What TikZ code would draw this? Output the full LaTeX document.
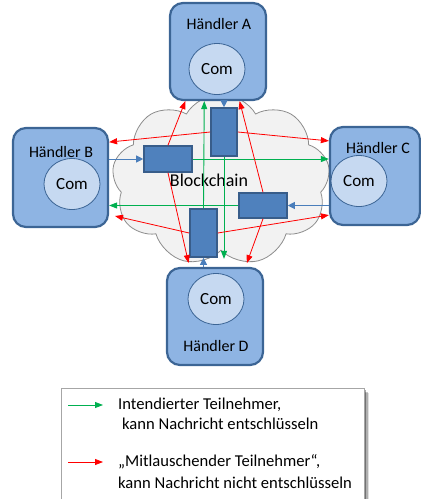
\documentclass[tikz,border=0pt]{standalone}
\usepackage{fontspec}
\setmainfont{Carlito}
\usetikzlibrary{shapes.symbols,shapes.geometric,arrows.meta,calc}
\definecolor{boxfill}{HTML}{8EB4E3}
\definecolor{boxline}{HTML}{3C6595}
\definecolor{comfill}{HTML}{C6D9F1}
\definecolor{blockfill}{HTML}{4F81BD}
\definecolor{blockline}{HTML}{385D8A}
\definecolor{sendblue}{HTML}{4A7EBB}
\definecolor{okgreen}{HTML}{00B050}
\definecolor{eavred}{HTML}{FF0000}
\definecolor{cloudfill}{HTML}{F2F2F2}
\definecolor{cloudline}{HTML}{8C8C8C}
\begin{document}
\begin{tikzpicture}[x=1pt,y=-1pt,
  handler/.style={draw=boxline, fill=boxfill, line width=2.2pt, rounded corners=13pt, inner sep=0pt},
  com/.style={ellipse, draw=boxline, fill=comfill, line width=0.8pt, minimum width=56pt, minimum height=51pt, inner sep=0pt, font=\fontsize{17}{20}\selectfont},
  hlabel/.style={font=\fontsize{16}{19}\selectfont, inner sep=0pt},
  block/.style={draw=blockline, fill=blockfill, line width=1.6pt, inner sep=0pt},
  intended/.style={draw=okgreen, line width=0.9pt, -{Triangle[length=8pt,width=6pt]}},
  eaves/.style={draw=eavred, line width=0.8pt, -{Triangle[length=8pt,width=6pt]}},
  submit/.style={draw=sendblue, line width=0.8pt, -{Triangle[length=7pt,width=7pt]}},
  legendtext/.style={font=\fontsize{16.6}{19}\selectfont, inner sep=0pt, anchor=west},
]
\useasboundingbox (0,0) rectangle (421,499);

% the blockchain cloud
\node[cloud, cloud puffs=9, cloud puff arc=120, aspect=1.3, draw=cloudline, fill=cloudfill,
      line width=0.8pt, minimum width=218pt, minimum height=172pt] (cloud) at (221,180) {};
\node[font=\fontsize{18}{21}\selectfont, inner sep=0pt] (bc) at (209,180) {Blockchain};

% traders
\node[handler, minimum width=96pt, minimum height=97pt] (ha) at (218,51.5) {};
\node[handler, minimum width=95pt, minimum height=99pt] (hb) at (60.5,177.5) {};
\node[handler, minimum width=90pt, minimum height=98pt] (hc) at (375,176) {};
\node[handler, minimum width=96pt, minimum height=97pt] (hd) at (215,316.5) {};

\node[hlabel] (la) at (219,24) {Händler A};
\node[hlabel] (lb) at (61,152) {Händler B};
\node[hlabel] (lc) at (378,148) {Händler C};
\node[hlabel] (ld) at (216,346) {Händler D};

\node[com] (ca) at (217,69) {Com};
\node[com] (cb) at (72,184) {Com};
\node[com] (cc) at (359,181) {Com};
\node[com] (cd) at (216,299) {Com};

% blocks
\node[block, minimum width=26pt, minimum height=48pt] (b1) at (224,132) {};
\node[block, minimum width=48pt, minimum height=26pt] (b2) at (168,159) {};
\node[block, minimum width=48pt, minimum height=25pt] (b3) at (263,205.5) {};
\node[block, minimum width=27pt, minimum height=48pt] (b4) at (203.5,233) {};

% submissions from the traders
\draw[submit] (b1.north |- ha.south) -- (b1.north);
\draw[submit] (hb.east |- b2.west) -- (b2.west);
\draw[submit] (hc.west |- b3.east) -- (b3.east);
\draw[submit] (b4.south |- hd.north) -- (b4.south);

% intended recipients
\draw[intended] (b4.north) -- ($(ha.south west)!0.36!(ha.south east)$);
\draw[intended, shorten >=8pt] (b1.south) -- (b1.south |- hd.north);
\draw[intended] (b2.east) -- (hc.west |- b2.east);
\draw[intended] (b3.west) -- (hb.east |- b3.west);

% eavesdropping participants
\coordinate (r7end) at (115,216);
\draw[eaves] (b1.west) -- ($(hb.north east)!0.15!(hb.south east)$);
\draw[eaves] (b1.east) -- ($(hc.north west)!0.15!(hc.south west)$);
\draw[eaves] (b2.north) -- ($(ha.south west)!0.167!(ha.south east)$);
\draw[eaves] (b3.north) -- ($(ha.south west)!0.72!(ha.south east)$);
\draw[eaves, shorten >=4pt] (b2.south) -- ($(hd.north west)!0.24!(hd.north east)$);
\draw[eaves, shorten >=4pt] (b3.south) -- ($(hd.north west)!0.81!(hd.north east)$);
\draw[eaves] (b4.west) -- (r7end);
\draw[eaves] (b4.east) -- ($(hc.north west)!0.89!(hc.south west)$);

% legend with its soft shadow
\foreach \s/\o in {5/12, 3.5/22, 2/35} {
  \fill[black, opacity=\o/100] (61+\s,388+\s) rectangle (364+\s,515);
}
\fill[white] (61,388) rectangle (364,515);
\draw[draw=gray!70, line width=1pt] (61,388) rectangle (364,515);
\coordinate (lg1s) at (68,405);
\coordinate (lg1e) at (103,405);
\coordinate (lg2s) at (68,462);
\coordinate (lg2e) at (103,462);
\draw[intended] (lg1s) -- (lg1e);
\draw[eaves] (lg2s) -- (lg2e);
\node[legendtext] (t1) at (118,405) {Intendierter Teilnehmer,};
\node[legendtext] (t2) at (122,424) {kann Nachricht entschlüsseln};
\node[legendtext] (t3) at (118,462) {„Mitlauschender Teilnehmer“,};
\node[legendtext] (t4) at (118,483) {kann Nachricht nicht entschlüsseln};
\end{tikzpicture}
\end{document}
